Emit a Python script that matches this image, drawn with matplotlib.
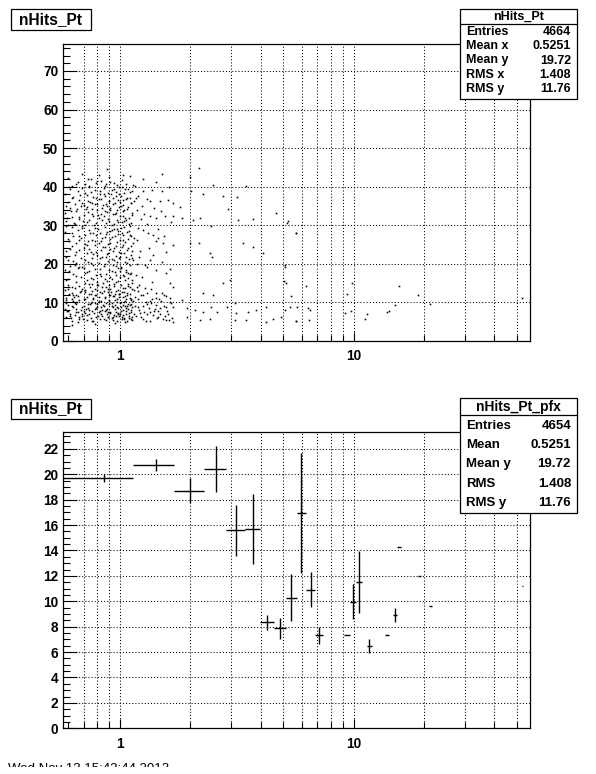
import matplotlib
matplotlib.use("Agg")
import matplotlib.pyplot as plt
import matplotlib.patches as patches
from matplotlib.lines import Line2D
from matplotlib.ticker import NullFormatter
from matplotlib.font_manager import FontProperties

W, H = 596, 774
FONT = "Liberation Sans"

# x axis: 100 bins of 0.57 GeV, log scale shown from first bin edge
BIN_W = 0.57
PT_RANGE = (0.57, 57.0)
X_MAJOR = [1, 10]
X_MINOR = [0.6, 0.7, 0.8, 0.9, 2, 3, 4, 5, 6, 7, 8, 9, 20, 30, 40, 50]
X_GRID = [0.7, 0.8, 0.9, 1, 2, 3, 4, 5, 6, 7, 8, 9, 10, 20, 30, 40, 50]

TOP_TITLE = "nHits_Pt"
TOP_YMAX = 77.0
TOP_STATS = [("Entries", "4664"), ("Mean x", "0.5251"), ("Mean y", "19.72"),
             ("RMS x", "1.408"), ("RMS y", "11.76")]

BOT_TITLE = "nHits_Pt_pfx"
BOT_YMAX = 23.35
BOT_STATS = [("Entries", "4654"), ("Mean", "0.5251"), ("Mean y", "19.72"),
             ("RMS", "1.408"), ("RMS y", "11.76")]

# profile: bin index, mean nHits, error on mean
PROF_BIN = [1, 2, 3, 4, 5, 6, 7, 8, 9, 10, 11, 12, 16, 17, 18, 20, 24, 26,
            27, 33, 37, 92]
PROF_MEAN = [19.70, 20.74, 18.69, 20.42, 15.58, 15.71, 8.33, 7.86, 10.29,
             16.97, 10.92, 7.33, 7.33, 9.95, 11.52, 6.49, 7.33, 8.90, 14.27,
             11.99, 9.61, 11.18]
PROF_ERR = [0.32, 0.50, 0.98, 1.83, 1.99, 2.76, 0.59, 0.85, 1.87, 4.72, 1.39,
            0.68, 0.0, 1.38, 2.46, 0.57, 0.0, 0.55, 0.0, 0.0, 0.0, 0.0]

DATE_STAMP = "Wed Nov 13 15:42:44 2013"

# scatter dots (pt, nHits)
DOTS_HIGH = [
    (0.62, 40.3), (0.66, 41.2), (0.71, 40.6), (0.75, 42.1), (0.79, 40.9),
    (0.83, 41.5), (0.86, 40.2), (0.90, 42.6), (0.94, 41.0), (0.97, 40.4),
    (1.02, 41.8), (1.06, 40.7), (0.69, 43.4), (0.88, 44.5), (1.10, 42.9),
    (0.60, 42.2), (0.81, 43.0),
    (0.58, 38.2), (0.60, 36.1), (0.61, 39.4), (0.63, 37.3), (0.64, 35.5),
    (0.66, 38.8), (0.67, 36.6), (0.69, 39.7), (0.70, 35.2), (0.72, 37.9),
    (0.73, 36.3), (0.75, 38.6), (0.76, 35.8), (0.78, 39.2), (0.79, 37.0),
    (0.80, 35.4), (0.82, 38.1), (0.83, 36.7), (0.85, 39.6), (0.86, 37.5),
    (0.87, 35.6), (0.89, 38.4), (0.90, 36.2), (0.92, 39.1), (0.93, 37.2),
    (0.95, 35.9), (0.96, 38.7), (0.98, 36.5), (0.99, 39.8), (1.01, 37.6),
    (1.03, 35.3), (1.04, 38.3), (1.06, 36.8), (1.08, 39.3), (1.10, 37.1),
    (1.12, 35.7), (1.13, 38.9), (0.74, 39.9), (0.88, 35.1), (1.00, 36.0),
    (0.58, 33.2), (0.59, 31.0), (0.61, 34.4), (0.62, 32.1), (0.64, 30.4),
    (0.65, 33.8), (0.67, 31.6), (0.68, 34.9), (0.70, 32.7), (0.71, 30.2),
    (0.73, 33.5), (0.74, 31.3), (0.76, 34.2), (0.77, 32.4), (0.79, 30.7),
    (0.80, 33.9), (0.81, 31.8), (0.84, 34.6), (0.85, 32.3), (0.87, 30.5),
    (0.88, 33.4), (0.90, 31.1), (0.91, 34.0), (0.93, 32.8), (0.94, 30.3),
    (0.96, 33.1), (0.97, 31.5), (0.99, 34.7), (1.00, 32.5), (1.02, 30.9),
    (1.03, 33.6), (1.05, 31.9), (1.07, 34.3), (1.09, 32.0), (1.11, 30.6),
    (1.13, 33.3), (0.60, 30.1), (0.83, 32.9), (1.04, 31.2), (0.72, 34.8),
    (0.585, 35.0), (0.595, 31.9), (0.605, 39.9), (0.615, 33.6),
    (0.625, 37.0), (0.635, 30.6), (0.645, 40.6), (0.655, 34.1),
    (0.665, 32.2), (0.675, 37.8), (0.685, 35.9), (0.695, 31.2),
    (0.705, 38.5), (0.715, 34.3), (0.725, 30.8), (0.735, 40.1),
    (0.745, 36.0), (0.755, 33.0), (0.765, 37.4), (0.775, 30.1),
    (0.785, 35.6), (0.795, 41.4), (0.805, 32.6), (0.815, 36.9),
    (0.825, 39.0), (0.835, 31.4), (0.845, 35.2), (0.855, 38.0),
    (0.865, 33.7), (0.875, 40.8), (0.885, 31.7), (0.895, 36.4),
    (0.905, 34.5), (0.915, 38.2), (0.925, 30.0), (0.935, 35.5),
    (0.945, 39.4), (0.955, 32.9), (0.965, 37.7), (0.975, 34.0),
    (0.985, 30.9), (0.995, 38.1), (1.005, 35.1), (1.015, 40.0),
    (1.025, 32.4), (1.035, 36.5), (1.045, 33.9), (1.055, 39.5),
    (1.065, 31.3), (1.075, 37.2), (1.085, 34.8), (1.095, 30.4),
    (1.105, 38.6), (1.115, 35.8), (1.125, 32.6), (1.135, 40.5),
    (1.145, 36.3), (0.73, 42.0), (0.91, 41.3), (1.03, 43.1),
]
DOTS_MID = [
    (0.58, 28.3), (0.60, 26.4), (0.62, 29.5), (0.63, 27.1), (0.65, 25.3),
    (0.66, 28.7), (0.68, 26.8), (0.69, 29.9), (0.71, 27.6), (0.73, 25.8),
    (0.74, 28.9), (0.76, 26.2), (0.78, 29.2), (0.79, 27.4), (0.81, 25.5),
    (0.82, 28.1), (0.84, 26.6), (0.86, 29.6), (0.87, 27.8), (0.89, 25.2),
    (0.91, 28.4), (0.92, 26.9), (0.94, 29.1), (0.95, 27.3), (0.97, 25.7),
    (0.98, 28.6), (1.00, 26.1), (1.01, 29.4), (1.03, 27.5), (1.05, 25.6),
    (1.07, 28.2), (1.08, 26.5), (1.10, 29.8), (1.12, 27.2), (1.14, 25.4),
    (0.59, 23.3), (0.60, 21.1), (0.62, 24.6), (0.64, 22.4), (0.65, 20.3),
    (0.67, 23.7), (0.68, 21.6), (0.70, 24.2), (0.72, 22.8), (0.73, 20.6),
    (0.75, 23.1), (0.76, 21.4), (0.78, 24.8), (0.80, 22.2), (0.81, 20.1),
    (0.83, 23.5), (0.84, 21.9), (0.86, 24.4), (0.88, 22.6), (0.89, 20.8),
    (0.91, 23.9), (0.92, 21.3), (0.94, 24.1), (0.96, 22.1), (0.97, 20.4),
    (0.99, 23.2), (1.00, 21.7), (1.02, 24.5), (1.04, 22.9), (1.05, 20.5),
    (1.07, 23.6), (1.09, 21.2), (1.11, 24.7), (1.12, 22.3), (1.14, 20.9),
    (0.585, 21.8), (0.605, 25.9), (0.625, 28.0), (0.645, 23.0),
    (0.665, 26.3), (0.685, 29.3), (0.705, 21.0), (0.725, 24.9),
    (0.745, 27.9), (0.765, 22.5), (0.785, 26.0), (0.805, 29.0),
    (0.825, 21.5), (0.845, 24.3), (0.865, 27.0), (0.885, 22.9),
    (0.905, 25.5), (0.925, 28.8), (0.945, 21.1), (0.965, 24.6),
    (0.985, 27.7), (1.005, 22.7), (1.025, 26.2), (1.045, 29.5),
    (1.065, 21.9), (1.085, 24.0), (1.105, 27.4), (1.125, 23.3),
    (1.145, 26.6), (0.59, 29.7), (0.61, 23.9), (0.63, 20.7), (0.67, 27.3),
    (0.71, 25.1), (0.75, 20.2), (0.77, 28.1), (0.79, 23.0), (0.83, 25.9),
    (0.87, 21.8), (0.91, 26.4), (0.93, 23.4), (0.97, 29.0), (0.99, 21.4),
    (1.03, 25.0), (1.07, 20.3), (1.09, 28.5), (1.13, 21.6), (0.74, 23.8),
    (0.88, 28.2), (1.02, 27.9),
    (0.58, 18.4), (0.60, 16.2), (0.61, 19.5), (0.63, 17.3), (0.65, 15.4),
    (0.66, 18.8), (0.68, 16.6), (0.69, 19.2), (0.71, 17.7), (0.72, 15.8),
    (0.74, 18.1), (0.75, 16.4), (0.77, 19.7), (0.79, 17.1), (0.80, 15.2),
    (0.82, 18.6), (0.83, 16.9), (0.85, 19.4), (0.87, 17.5), (0.88, 15.6),
    (0.90, 18.3), (0.92, 16.1), (0.93, 19.8), (0.95, 17.9), (0.96, 15.3),
    (0.98, 18.9), (1.00, 16.7), (1.01, 19.1), (1.03, 17.2), (1.05, 15.9),
    (1.06, 18.5), (1.08, 16.3), (1.10, 19.6), (1.12, 17.6), (1.13, 15.1),
    (0.585, 15.8), (0.605, 18.1), (0.625, 14.0), (0.645, 16.9),
    (0.665, 19.3), (0.685, 13.4), (0.705, 15.1), (0.725, 17.8),
    (0.745, 13.9), (0.765, 16.1), (0.785, 18.7), (0.805, 14.5),
    (0.825, 17.4), (0.845, 15.0), (0.865, 19.9), (0.885, 13.6),
    (0.905, 16.5), (0.925, 18.2), (0.945, 14.2), (0.965, 17.0),
    (0.985, 15.5), (1.005, 19.0), (1.025, 13.8), (1.045, 16.8),
    (1.065, 18.0), (1.085, 14.9), (1.105, 17.3), (1.125, 15.7),
    (1.145, 13.2), (0.60, 13.6), (0.70, 18.9), (0.80, 13.1), (0.90, 14.4),
    (1.00, 18.2), (1.10, 13.9), (0.64, 19.6), (0.76, 14.8), (0.86, 16.0),
    (0.96, 19.4), (1.08, 17.7),
]
DOTS_LOW = [
    (0.58, 13.3), (0.59, 11.2), (0.60, 14.6), (0.62, 12.4), (0.63, 10.3),
    (0.64, 13.8), (0.66, 11.7), (0.67, 14.2), (0.68, 12.9), (0.70, 10.8),
    (0.71, 13.1), (0.72, 11.4), (0.74, 14.7), (0.75, 12.2), (0.76, 10.1),
    (0.78, 13.6), (0.79, 11.9), (0.80, 14.4), (0.82, 12.6), (0.83, 10.5),
    (0.84, 13.9), (0.86, 11.1), (0.87, 14.1), (0.89, 12.8), (0.90, 10.4),
    (0.91, 13.4), (0.93, 11.6), (0.94, 14.8), (0.95, 12.3), (0.97, 10.9),
    (0.98, 13.2), (0.99, 11.3), (1.01, 14.5), (1.02, 12.7), (1.04, 10.2),
    (1.05, 13.7), (1.07, 11.8), (1.08, 14.3), (1.10, 12.1), (1.11, 10.6),
    (1.13, 13.5), (0.65, 12.0), (0.81, 11.5), (0.96, 13.0), (1.06, 11.0),
    (0.58, 8.3), (0.59, 6.2), (0.60, 9.4), (0.61, 7.1), (0.62, 5.3),
    (0.63, 8.8), (0.64, 6.7), (0.65, 9.7), (0.66, 7.6), (0.67, 5.8),
    (0.68, 8.1), (0.69, 6.4), (0.70, 9.2), (0.71, 7.3), (0.72, 5.5),
    (0.73, 8.6), (0.74, 6.9), (0.75, 9.9), (0.76, 7.8), (0.77, 5.2),
    (0.78, 8.4), (0.79, 6.1), (0.80, 9.5), (0.81, 7.4), (0.82, 5.7),
    (0.83, 8.9), (0.84, 6.6), (0.85, 9.1), (0.86, 7.7), (0.87, 5.4),
    (0.88, 8.2), (0.89, 6.3), (0.90, 9.6), (0.91, 7.2), (0.92, 5.9),
    (0.93, 8.7), (0.94, 6.8), (0.95, 9.3), (0.96, 7.5), (0.97, 5.1),
    (0.98, 8.5), (0.99, 6.5), (1.00, 9.8), (1.01, 7.9), (1.02, 5.6),
    (1.03, 8.0), (1.04, 6.0), (1.05, 9.0), (1.06, 7.0), (1.07, 5.3),
    (1.08, 8.4), (1.09, 6.6), (1.10, 9.4), (1.11, 7.6), (1.12, 5.8),
    (1.13, 8.7), (0.60, 7.7), (0.74, 8.0), (0.88, 7.1), (1.00, 6.9),
    (0.66, 5.0), (0.95, 4.6), (0.78, 4.3), (1.05, 4.8), (0.62, 4.1),
    (0.585, 10.6), (0.595, 7.9), (0.605, 12.2), (0.615, 5.9), (0.625, 9.1),
    (0.635, 11.5), (0.645, 7.4), (0.655, 10.2), (0.665, 6.3),
    (0.675, 12.6), (0.685, 8.7), (0.695, 5.6), (0.705, 11.0), (0.715, 8.2),
    (0.725, 6.8), (0.735, 12.3), (0.745, 9.6), (0.755, 5.3), (0.765, 10.9),
    (0.775, 7.2), (0.785, 12.0), (0.795, 8.9), (0.805, 6.5), (0.815, 10.4),
    (0.825, 7.7), (0.835, 12.5), (0.845, 9.4), (0.855, 5.8), (0.865, 11.3),
    (0.875, 8.0), (0.885, 6.1), (0.895, 10.7), (0.905, 7.5), (0.915, 12.8),
    (0.925, 9.0), (0.935, 5.5), (0.945, 11.6), (0.955, 8.3), (0.965, 6.4),
    (0.975, 10.1), (0.985, 7.3), (0.995, 12.1), (1.005, 8.8),
    (1.015, 6.2), (1.025, 11.4), (1.035, 9.3), (1.045, 5.7), (1.055, 10.5),
    (1.065, 7.8), (1.075, 12.4), (1.085, 9.7), (1.095, 6.0), (1.105, 11.1),
    (1.115, 8.1), (1.125, 5.4), (1.135, 10.3), (1.145, 7.0), (1.155, 9.2),
    (0.59, 9.9), (0.61, 6.6), (0.63, 11.9), (0.65, 8.4), (0.67, 10.7),
    (0.69, 7.0), (0.71, 12.7), (0.73, 9.5), (0.75, 6.0), (0.77, 11.2),
    (0.79, 8.6), (0.81, 10.0), (0.83, 6.9), (0.85, 12.9), (0.87, 9.9),
    (0.89, 7.6), (0.91, 11.8), (0.93, 6.2), (0.95, 10.6), (0.97, 8.8),
    (0.99, 12.2), (1.01, 10.2), (1.03, 6.7), (1.05, 11.7), (1.07, 9.1),
    (1.09, 7.3), (1.11, 10.8), (1.13, 6.3), (0.64, 9.9), (0.78, 9.8),
    (0.92, 9.8), (1.06, 8.5), (0.70, 7.9), (0.84, 8.0), (0.98, 7.0),
    (1.12, 9.5), (0.62, 10.9), (0.76, 12.9), (0.90, 11.9), (1.04, 12.6),
]
DOTS_TAIL = [
    (1.16, 40.2), (1.20, 37.5), (1.24, 35.0), (1.27, 33.0), (1.31, 30.4),
    (1.35, 36.2), (1.40, 34.6), (1.45, 29.0), (1.50, 33.8), (1.55, 27.2),
    (1.60, 36.5), (1.65, 30.8), (1.18, 26.3), (1.22, 23.4), (1.28, 19.8),
    (1.33, 24.1), (1.38, 22.2), (1.46, 26.7), (1.52, 20.5), (1.58, 23.0),
    (1.63, 18.6), (1.17, 17.1), (1.21, 14.6), (1.26, 11.8), (1.30, 9.5),
    (1.36, 13.4), (1.41, 8.2), (1.47, 10.9), (1.54, 9.1), (1.59, 7.8),
    (1.64, 11.2), (1.68, 8.7), (1.19, 8.9), (1.23, 6.1), (1.29, 5.2),
    (1.34, 10.3), (1.39, 6.8), (1.44, 5.9), (1.49, 7.0), (1.56, 6.4),
    (1.62, 5.5), (1.66, 9.8), (1.16, 11.5), (1.25, 9.0), (1.42, 12.5),
    (1.17, 6.6), (1.19, 10.8), (1.21, 8.1), (1.23, 11.9), (1.25, 5.8),
    (1.27, 7.5), (1.29, 10.0), (1.31, 6.9), (1.33, 8.6), (1.35, 5.3),
    (1.37, 11.0), (1.40, 7.7), (1.43, 9.3), (1.46, 6.2), (1.50, 10.4),
    (1.53, 5.7), (1.57, 8.9), (1.61, 7.1), (1.67, 6.0), (1.20, 12.9),
    (1.28, 13.8), (1.36, 9.9), (1.45, 7.9), (1.55, 11.8), (1.18, 19.9),
    (1.19, 29.4), (1.23, 31.6), (1.30, 36.9), (1.37, 39.2), (1.42, 25.8),
    (1.48, 36.4), (1.56, 32.5), (1.62, 39.8), (1.21, 21.9), (1.32, 28.1),
    (1.17, 37.0), (1.26, 42.0),
    (1.43, 41.1), (1.52, 43.3), (1.26, 38.8), (1.52, 38.8), (1.69, 35.9),
    (1.81, 34.7), (2.00, 42.5), (2.18, 44.8), (2.26, 38.1), (2.02, 38.8),
    (2.51, 40.5), (2.75, 37.6), (3.17, 37.3), (3.46, 40.1), (3.71, 31.6),
    (4.67, 33.1), (5.19, 30.7), (5.69, 27.9), (1.18, 34.0), (1.34, 32.3),
    (1.43, 31.8), (1.69, 32.3), (1.84, 31.8), (2.06, 31.4), (2.20, 31.8),
    (2.46, 29.8), (2.90, 34.2), (3.20, 31.4), (1.26, 28.8), (1.39, 27.5),
    (1.53, 25.3), (1.69, 24.9), (1.99, 25.3), (2.18, 25.5), (2.42, 22.8),
    (2.47, 21.9), (2.95, 15.8), (2.75, 15.0), (3.37, 25.5), (3.71, 24.5),
    (1.34, 21.0), (1.43, 18.4), (1.58, 17.6), (1.64, 15.0), (1.69, 14.1),
    (1.24, 16.7), (1.37, 15.4), (1.30, 19.3), (1.18, 14.1), (1.30, 12.4),
    (1.43, 11.1), (1.58, 11.7), (1.64, 10.2), (1.84, 10.6), (1.93, 8.5),
    (2.09, 8.0), (2.27, 7.6), (2.46, 8.9), (2.59, 7.6), (2.86, 8.9),
    (3.15, 7.2), (3.53, 7.6), (3.84, 8.0), (4.24, 8.9), (5.07, 8.0),
    (1.22, 7.2), (1.34, 7.4), (1.48, 8.5), (1.58, 5.4), (1.69, 5.0),
    (1.93, 6.3), (2.20, 5.4), (2.42, 5.6), (3.10, 5.4), (3.48, 5.4),
    (4.24, 5.0), (4.52, 5.6), (5.69, 5.2), (5.42, 11.7), (5.07, 19.3),
    (5.15, 15.0), (4.10, 22.8), (2.27, 12.4), (2.51, 11.9), (3.10, 9.8),
    (1.51, 12.4),
    (5.24, 31.1), (5.65, 27.9), (5.07, 19.6), (5.02, 15.6), (6.26, 14.3),
    (5.36, 8.9), (5.72, 8.7), (6.38, 8.5), (6.49, 8.0), (5.65, 5.2),
    (6.44, 5.4), (4.91, 6.3), (9.36, 12.1), (9.87, 15.0), (9.24, 7.3),
    (9.78, 7.9), (11.4, 7.0), (11.25, 5.6), (13.9, 7.4), (14.2, 7.9),
    (15.6, 14.3), (15.0, 9.3), (18.9, 12.0), (21.3, 9.6), (52.5, 11.2),
]

TICK_FP = FontProperties(family=FONT, weight="bold", size=9.8)


def fx(x):
    return x / W


def fy(y):
    return 1 - y / H


def setup_frame(ax, ymax, ymajor, yminor):
    ax.set_xscale("log")
    ax.set_xlim(*PT_RANGE)
    ax.set_ylim(0, ymax)
    ax.set_xticks(X_MAJOR, labels=["1", "10"])
    ax.set_xticks(X_MINOR, minor=True)
    ax.xaxis.set_minor_formatter(NullFormatter())
    ax.set_yticks(ymajor)
    ax.set_yticks(yminor, minor=True)
    ax.tick_params(axis="both", which="both", direction="in", top=False,
                   right=False, width=0.8, colors="black")
    ax.tick_params(axis="y", which="major", length=10, pad=3.5)
    ax.tick_params(axis="y", which="minor", length=5)
    ax.tick_params(axis="x", which="major", length=6.5, pad=6)
    ax.tick_params(axis="x", which="minor", length=4)
    for lab in ax.get_xticklabels() + ax.get_yticklabels():
        lab.set_fontproperties(TICK_FP)
    for sp in ax.spines.values():
        sp.set_linewidth(0.9)
    for x in X_GRID:
        ax.axvline(x, color="black", lw=0.75, ls=(0, (1, 2)), zorder=0.5)
    for y in ymajor:
        if 0 < y < ymax:
            ax.axhline(y, color="black", lw=0.75, ls=(0, (1, 2)), zorder=0.5)


def title_box(fig, top, text):
    fig.add_artist(patches.Rectangle(
        (fx(11), fy(top + 20)), 80 / W, 20 / H, transform=fig.transFigure,
        facecolor="white", edgecolor="black", lw=0.9))
    fig.text(fx(51), fy(top + 10), text, ha="center", va="center",
             family=FONT, weight="bold", size=11.2)


def stats_box(fig, left, right, top, bottom, sep, title, title_size, rows,
              row_ys, size, val_pad):
    fig.add_artist(patches.Rectangle(
        (fx(left), fy(bottom)), (right - left) / W, (bottom - top) / H,
        transform=fig.transFigure, facecolor="white", edgecolor="black",
        lw=0.9, zorder=5))
    fig.add_artist(Line2D([fx(left), fx(right)], [fy(sep), fy(sep)],
                          transform=fig.transFigure, color="black", lw=0.9,
                          zorder=5))
    fig.text(fx((left + right) / 2), fy((top + sep) / 2 + 0.5), title,
             ha="center", va="center", family=FONT, weight="bold",
             size=title_size, zorder=6)
    for (lab, val), y in zip(rows, row_ys):
        fig.text(fx(left + 6), fy(y), lab, ha="left", va="center",
                 family=FONT, weight="bold", size=size, zorder=6)
        fig.text(fx(right - val_pad), fy(y), val, ha="right", va="center",
                 family=FONT, weight="bold", size=size, zorder=6)


fig = plt.figure(figsize=(W / 100, H / 100), dpi=100)
fig.patch.set_facecolor("white")

# top: scatter of nHits vs pt
ax1 = fig.add_axes([fx(63), fy(341), 467 / W, 297 / H])
setup_frame(ax1, TOP_YMAX, list(range(0, 80, 10)),
            [v for v in range(0, 78, 2) if v % 10])
dots = DOTS_HIGH + DOTS_MID + DOTS_LOW + DOTS_TAIL
ax1.plot([d[0] for d in dots], [d[1] for d in dots], ls="none", marker="s",
         ms=1.15, mew=0, color="black", zorder=2)

# bottom: profile
ax2 = fig.add_axes([fx(63), fy(728.3), 467 / W, 296.6 / H])
setup_frame(ax2, BOT_YMAX, list(range(0, 24, 2)),
            [v / 2 for v in range(0, 47) if v % 4])
centers = [(b + 0.5) * BIN_W for b in PROF_BIN]
ax2.errorbar(centers, PROF_MEAN, xerr=BIN_W / 2, yerr=PROF_ERR, fmt="none",
             ecolor="black", elinewidth=1.0, capsize=0, zorder=2)

title_box(fig, 9.5, TOP_TITLE)
title_box(fig, 399, TOP_TITLE)

stats_box(fig, 460, 577, 9.5, 99, 23.5, TOP_TITLE, 9, TOP_STATS,
          [31.8, 46, 60.5, 74.7, 89], 9, 6)
stats_box(fig, 460, 577, 398, 513, 415, BOT_TITLE, 10, BOT_STATS,
          [426, 445, 464, 484, 503], 9.5, 6)

# date stamp: in the original only the top edge of the glyphs shows
fig.text(fx(8), fy(763.0), DATE_STAMP, ha="left", va="top",
         family=FONT, size=9.5, color="black", zorder=8)
fig.add_artist(patches.Rectangle(
    (0, 0), 1, fy(766.5), transform=fig.transFigure, facecolor="white",
    edgecolor="none", zorder=9))

fig.savefig("out.png", dpi=100)
